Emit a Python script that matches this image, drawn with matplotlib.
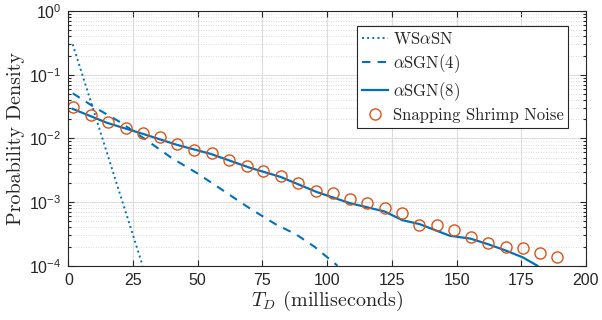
import math
import matplotlib
matplotlib.use('Agg')
import matplotlib.pyplot as plt
from matplotlib import rcParams
from matplotlib.ticker import LogLocator, FixedLocator, NullFormatter, FuncFormatter

rcParams['mathtext.fontset'] = 'custom'
rcParams['mathtext.rm'] = 'Liberation Sans'
rcParams['mathtext.it'] = 'Liberation Sans:italic'
rcParams['font.family'] = ['Liberation Sans', 'DejaVu Sans']

# snapping shrimp noise histogram (circles)
shrimp_x = [1.7, 8.65, 15.45, 22.3, 29.0, 35.4, 42.1, 48.7, 55.4, 62.1,
            68.9, 75.1, 82.0, 88.8, 95.6, 102.1, 108.8, 115.5, 122.2, 128.9,
            135.6, 142.4, 148.9, 155.4, 162.1, 169.0, 175.6, 182.3, 188.8]
shrimp_y = [0.0308, 0.0233, 0.0181, 0.0147, 0.0122, 0.0104, 0.00817, 0.00665,
            0.00584, 0.00458, 0.00373, 0.00311, 0.00257, 0.00197, 0.00149,
            0.00137, 0.00113, 0.00097, 0.00081, 0.00068, 0.00044, 0.00044,
            0.00036, 0.00028, 0.00023, 0.00020, 0.00019, 0.00016, 0.000136]

# WS-alpha-SN model
ws_x = [1.7, 5, 10, 15, 20, 25, 28.7]
ws_y = [0.30, 0.113, 0.0256, 0.0058, 0.00132, 0.0003, 0.0001]

# alpha-SGN(4)
sgn4_x = [1.7, 10, 20, 30, 40, 50, 60, 70, 80, 88, 95, 104]
sgn4_y = [0.051, 0.031, 0.018, 0.0095, 0.0049, 0.0028, 0.0015, 0.00080,
          0.00045, 0.00031, 0.00020, 0.0001]

# alpha-SGN(8)
sgn8_x = [1.7, 15, 29, 42, 55, 70, 82, 95.9, 108.8, 122.2, 129, 135.7,
          147.4, 155.4, 162.1, 169, 175.6, 181.2]
sgn8_y = [0.029, 0.0175, 0.0117, 0.0079, 0.0057, 0.00347, 0.00248, 0.00144,
          0.00096, 0.00071, 0.00052, 0.00045, 0.000295, 0.000266, 0.000218,
          0.000173, 0.000135, 0.0001]

x_ticks = [0, 25, 50, 75, 100, 125, 150, 175, 200]

blue = '#0072BD'
orange = '#D95319'
dark = '#262626'

fig = plt.figure(figsize=(6.02, 3.2), dpi=100)
ax = fig.add_axes([0.1135, 0.1697, 0.8599, 0.7959])

ax.plot(ws_x, ws_y, ls=':', c=blue, lw=1.4, label=r'WS$\alpha$SN')
ax.plot(sgn4_x, sgn4_y, ls='--', c=blue, lw=1.5, dashes=(4, 3.5), label=r'$\alpha$SGN(4)')
ax.plot(sgn8_x, sgn8_y, ls='-', c=blue, lw=1.6, label=r'$\alpha$SGN(8)')
ax.plot(shrimp_x, shrimp_y, ls='none', marker='o', ms=8, mfc='none',
        mec=orange, mew=1.0, label='Snapping Shrimp Noise')

ax.set_yscale('log')
ax.set_xlim(0, 200)
ax.set_ylim(1e-4, 1)
ax.xaxis.set_major_locator(FixedLocator(x_ticks))
ax.yaxis.set_major_locator(LogLocator(base=10, numticks=10))
ax.yaxis.set_minor_locator(LogLocator(base=10, subs=range(2, 10), numticks=20))
ax.yaxis.set_minor_formatter(NullFormatter())
ax.yaxis.set_major_formatter(FuncFormatter(lambda v, p: r'$\mathrm{10^{%d}}$' % round(math.log10(v))))

ax.grid(True, which='major', color='#dcdcdc', lw=0.8)
ax.grid(True, which='minor', axis='y', color='#cfcfcf', lw=0.6, ls=(0, (1, 2)))
ax.set_axisbelow(True)

ax.tick_params(which='both', direction='in', top=True, right=True, colors=dark,
               labelsize=11.5, width=0.8)
ax.tick_params(which='major', length=4, pad=5)
ax.tick_params(which='minor', length=2)
for s in ax.spines.values():
    s.set_color(dark)
    s.set_linewidth(0.8)

ax.set_xlabel(r'$T_D$ (milliseconds)', fontsize=14.5, family='cmr10',
              math_fontfamily='cm', color=dark, labelpad=1)
ax.set_ylabel('Probability Density', fontsize=14.5, family='cmr10', color=dark,
              labelpad=3)

leg = ax.legend(loc='upper right', bbox_to_anchor=(0.966, 0.94),
                prop={'family': 'cmr10', 'size': 12}, fancybox=False,
                framealpha=1, edgecolor=dark, handlelength=1.6,
                handletextpad=0.25, borderpad=0.3, labelspacing=0.3,
                borderaxespad=0)
leg.get_frame().set_linewidth(0.8)
for t in leg.get_texts():
    t.set_math_fontfamily('cm')
    t.set_color(dark)

fig.savefig('out.png', dpi=100)
